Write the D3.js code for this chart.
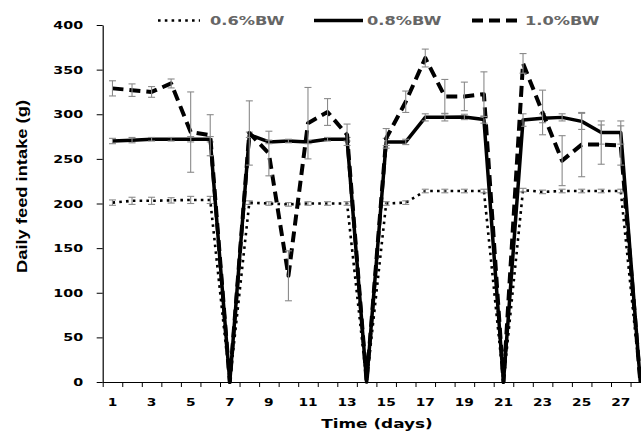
<!DOCTYPE html>
<html>
<head>
<meta charset="utf-8">
<script src="https://cdn.jsdelivr.net/npm/d3@7"></script>
<style>
  body { margin: 0; background: #fff; }
  text { font-family: "DejaVu Sans", Verdana, sans-serif; font-weight: bold; }
</style>
</head>
<body>
<svg id="chart" width="641" height="433"></svg>
<script>
// days 1..28
var days = d3.range(1, 29);
var yTicks = [0, 50, 100, 150, 200, 250, 300, 350, 400];
var xLabels = [1, 3, 5, 7, 9, 11, 13, 15, 17, 19, 21, 23, 25, 27];
var seriesNames = ['0.6%BW', '0.8%BW', '1.0%BW'];

var bw06 = [201,203,203,203.5,204,204,0,201,200,199,200,200,200,0,200,201,214,214,214,214,0,215,213,214,214,214,214,0];
var err06 = [3,4,4,3,4,4,0,2,2,2,2,2,2,0,2,2,2,2,2,2,0,2,2,2,2,2,2,0];
var bw08 = [270,271,272,272,272,272,0,277,269,270,269,272,272,0,269,269,296.5,296.5,297,294,0,293.5,295.5,296.5,292,279.5,279.5,0];
var err08 = [3,3,2,2,3,3,0,3,2,2,2,2,2,0,4,3,4,4,3,4,0,7,5,4,9,13,13,0];
var bw10 = [329,327,325,334.5,280,276.5,0,279,256,119,290,302.5,277,0,273,314,363,320,320,322.5,0,357,302,248,266,266,265,0];
var err10 = [8.5,7,6,5,45,23,0,36,25,28,40,15,12,0,11,12,10,19,16,25,0,11,25,28,36,22,22,0];

var series = [
  {name: seriesNames[0], values: bw06, errs: err06, width: 2.6, dash: '2.6 4.2', cap: 'butt'},
  {name: seriesNames[1], values: bw08, errs: err08, width: 3.5, dash: null, cap: 'butt'},
  {name: seriesNames[2], values: bw10, errs: err10, width: 4, dash: '11 6', cap: 'butt'}
];

var sx = 1.3; // wide text look of the original
var svg = d3.select('#chart');
var x0 = 102.7, bandW = 19.55;
var x = d3.scaleBand().domain(days).range([x0, x0 + days.length * bandW]).padding(0);
var xEdge = d3.scaleLinear().domain([0, days.length]).range([x0, x0 + days.length * bandW]);
var y = d3.scaleLinear().domain([0, 400]).range([382, 25]);
var cx = function(d){ return x(d) + x.bandwidth() / 2; };

// y axis
var gy = svg.append('g').attr('transform', 'translate(' + x0 + ',0)')
  .call(d3.axisLeft(y).tickValues(yTicks).tickSize(6).tickSizeOuter(0));
gy.select('.domain').attr('stroke', '#000').attr('stroke-width', 1.2);
gy.selectAll('.tick line').attr('stroke', '#000');
gy.selectAll('.tick text')
  .attr('x', -19.5 / sx).attr('transform', 'scale(' + sx + ',1)')
  .attr('font-size', 11).attr('fill', '#000')
  .style('font-family', '"DejaVu Sans", sans-serif').style('font-weight', 'bold');

// x axis: ticks at band edges, labels on odd days
var gx = svg.append('g').attr('transform', 'translate(0,382)')
  .call(d3.axisBottom(xEdge).tickValues(d3.range(0, 29)).tickSize(5).tickSizeOuter(0).tickFormat(''));
gx.select('.domain').attr('stroke', '#000').attr('stroke-width', 1.2);
gx.selectAll('.tick line').attr('stroke', '#000');

var gxl = svg.append('g').attr('transform', 'translate(0,382)')
  .call(d3.axisBottom(x).tickValues(xLabels).tickSize(0));
gxl.select('.domain').remove();
gxl.selectAll('.tick text')
  .attr('y', 24).attr('dy', 0)
  .attr('transform', 'scale(' + 1.25 + ',1)')
  .attr('font-size', 11).attr('fill', '#000')
  .style('font-family', '"DejaVu Sans", sans-serif').style('font-weight', 'bold');
gxl.selectAll('.tick').each(function(d){
  d3.select(this).attr('transform', 'translate(' + cx(d) + ',0)');
});

// lines + error bars
var line = d3.line().x(function(d, i){ return cx(days[i]); }).y(function(d){ return y(d); });
series.forEach(function(s){
  svg.append('path')
    .datum(s.values)
    .attr('d', line)
    .attr('fill', 'none')
    .attr('stroke', '#000')
    .attr('stroke-width', s.width)
    .attr('stroke-linecap', s.cap)
    .attr('stroke-linejoin', 'round')
    .attr('stroke-dasharray', s.dash);
  var eb = svg.append('g').attr('stroke', '#8a8a8a').attr('stroke-width', 1.1);
  s.values.forEach(function(v, i){
    var e = s.errs[i];
    if (!e) return;
    var px = cx(days[i]);
    eb.append('line').attr('x1', px).attr('x2', px).attr('y1', y(v - e)).attr('y2', y(v + e));
    eb.append('line').attr('x1', px - 3.5).attr('x2', px + 3.5).attr('y1', y(v - e)).attr('y2', y(v - e));
    eb.append('line').attr('x1', px - 3.5).attr('x2', px + 3.5).attr('y1', y(v + e)).attr('y2', y(v + e));
  });
});

// legend
var legendX = [[158, 200, 210], [314, 363, 367], [472, 517, 525]];
series.forEach(function(s, i){
  var p = legendX[i];
  svg.append('line')
    .attr('x1', p[0]).attr('x2', p[1]).attr('y1', 20.5).attr('y2', 20.5)
    .attr('stroke', '#000').attr('stroke-width', s.width)
    .attr('stroke-dasharray', s.dash);
  svg.append('text')
    .attr('transform', 'translate(' + p[2] + ',25) scale(' + sx + ',1)')
    .attr('font-size', 12.5).attr('fill', '#666')
    .text(s.name);
});

// axis titles
svg.append('text')
  .attr('transform', 'translate(377,428) scale(' + sx + ',1)')
  .attr('text-anchor', 'middle').attr('font-size', 13).attr('fill', '#000')
  .text('Time (days)');
svg.append('text')
  .attr('transform', 'translate(27,186.5) rotate(-90)')
  .attr('text-anchor', 'middle')
  .attr('font-size', 15.5).attr('fill', '#000')
  .attr('textLength', 173).attr('lengthAdjust', 'spacingAndGlyphs')
  .style('font-family', '"Liberation Sans Narrow", "Liberation Sans", sans-serif')
  .text('Daily feed intake (g)');
</script>
</body>
</html>
